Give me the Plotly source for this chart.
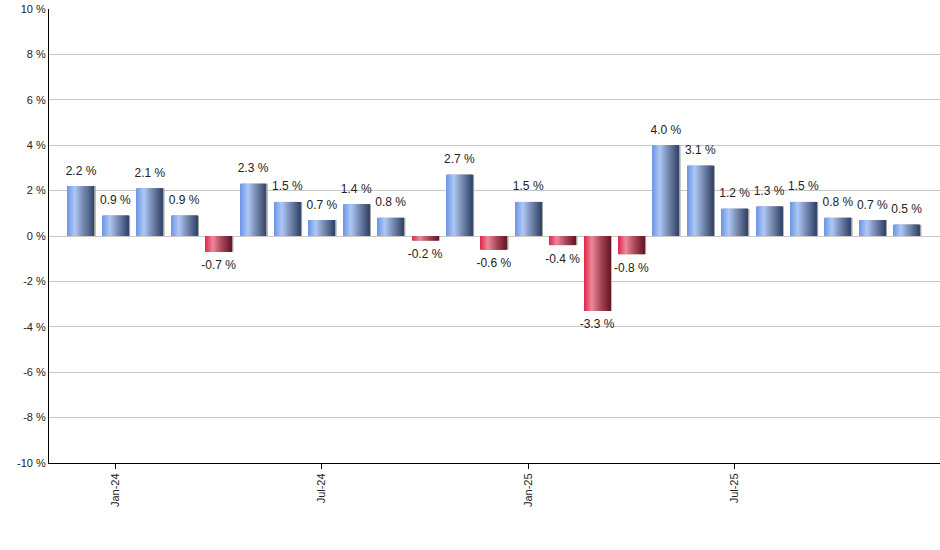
import plotly.graph_objects as go

# monthly change, Dec-23 .. Dec-25
months = ["Dec-23", "Jan-24", "Feb-24", "Mar-24", "Apr-24", "May-24", "Jun-24",
          "Jul-24", "Aug-24", "Sep-24", "Oct-24", "Nov-24", "Dec-24", "Jan-25",
          "Feb-25", "Mar-25", "Apr-25", "May-25", "Jun-25", "Jul-25", "Aug-25",
          "Sep-25", "Oct-25", "Nov-25", "Dec-25"]
values = [2.2, 0.9, 2.1, 0.9, -0.7, 2.3, 1.5, 0.7, 1.4, 0.8, -0.2, 2.7, -0.6,
          1.5, -0.4, -3.3, -0.8, 4.0, 3.1, 1.2, 1.3, 1.5, 0.8, 0.7, 0.5]
tick_labels = ["Jan-24", "Jul-24", "Jan-25", "Jul-25"]
y_ticks = [-10, -8, -6, -4, -2, 0, 2, 4, 6, 8, 10]

x = list(range(len(months)))
tick_pos = [months.index(t) for t in tick_labels]

# horizontal gradient stops (position, colour) for the bar fill
blue_stops = [(0.0, "#6b94e4"), (0.3, "#aec8f6"), (0.6, "#7a8db3"), (1.0, "#33456b")]
red_stops = [(0.0, "#de2649"), (0.3, "#eb889a"), (0.62, "#ad4a5b"), (1.0, "#661927")]


def grad(stops, t):
    for (p0, c0), (p1, c1) in zip(stops[:-1], stops[1:]):
        if p0 <= t <= p1:
            f = (t - p0) / (p1 - p0)
            a = [int(c0[k:k + 2], 16) for k in (1, 3, 5)]
            b = [int(c1[k:k + 2], 16) for k in (1, 3, 5)]
            return "rgb(%d,%d,%d)" % tuple(round(a[j] + (b[j] - a[j]) * f) for j in range(3))
    return stops[-1][1]


bar_w = 0.756
n = 26
sw = bar_w / n

fig = go.Figure()

# shadow
fig.add_trace(go.Bar(
    x=x, y=values, width=bar_w, offset=-bar_w / 2 + 0.05,
    marker=dict(color="#a0a0a0", line=dict(width=0)),
    hoverinfo="skip", showlegend=False
))

for i in range(n):
    t = (i + 0.5) / n
    cb, cr = grad(blue_stops, t), grad(red_stops, t)
    cols = [cb if v >= 0 else cr for v in values]
    w = sw * 1.8 if i < n - 1 else sw
    fig.add_trace(go.Bar(
        x=x, y=values, width=w, offset=-bar_w / 2 + i * sw,
        marker=dict(color=cols, line=dict(width=0)),
        hoverinfo="skip", showlegend=False
    ))

# value labels
labels = [f"{v:.1f} %" for v in values]
fig.add_trace(go.Scatter(
    x=x, y=values, mode="markers+text", text=labels,
    marker=dict(size=12, opacity=0),
    textposition=["top center" if v >= 0 else "bottom center" for v in values],
    textfont=dict(size=12, color="#222222", family="Liberation Sans, Arial, sans-serif"),
    hoverinfo="skip", showlegend=False
))

fig.update_layout(
    barmode="overlay",
    width=940, height=550,
    paper_bgcolor="white", plot_bgcolor="white",
    margin=dict(l=49, r=0, t=9, b=87),
    font=dict(family="Liberation Sans, Arial, sans-serif", size=11, color="#222222"),
    xaxis=dict(
        range=[-0.93, 24.97], automargin=False,
        tickvals=tick_pos, ticktext=tick_labels, tickangle=-90,
        ticks="outside", ticklen=5, tickcolor="black",
        showgrid=False, zeroline=False,
        showline=True, linecolor="black", linewidth=1,
    ),
    yaxis=dict(
        range=[-10, 10], automargin=False,
        tickvals=y_ticks, ticktext=[f"{t} %" for t in y_ticks],
        showgrid=True, gridcolor="#c8c8c8", gridwidth=1,
        zeroline=True, zerolinecolor="#c8c8c8", zerolinewidth=1,
        showline=True, linecolor="black", linewidth=1,
        ticks="", ticklen=0,
    ),
)

# the page body has an 8px default margin; drop it so the chart sits at 0,0
fig.write_html("out.html", config={"displayModeBar": False},
               post_script="document.body.style.margin='0';")
